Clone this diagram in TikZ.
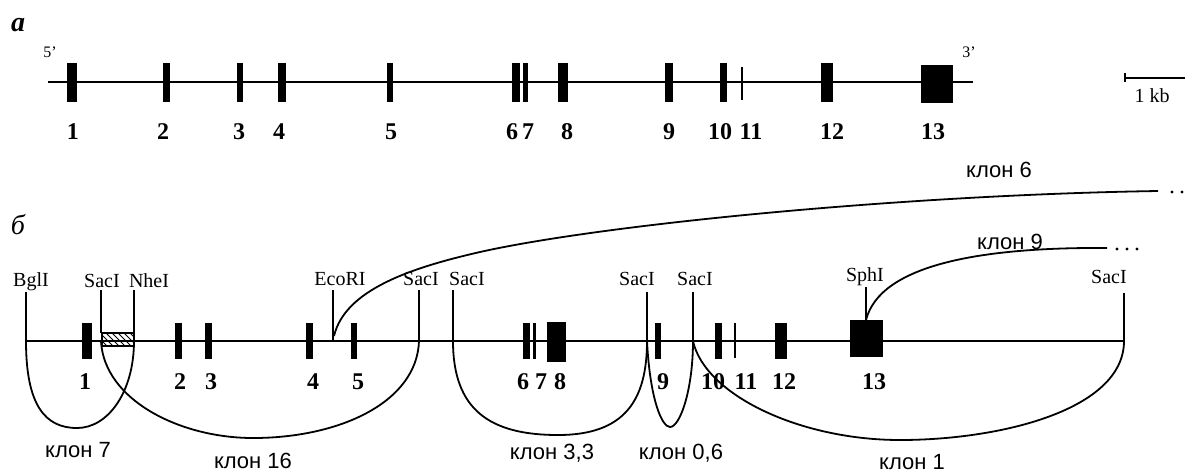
\documentclass[tikz,border=0pt]{standalone}
\usepackage{fontspec}
\setmainfont{Liberation Serif}
\setsansfont{Liberation Sans}
\usetikzlibrary{patterns}
\begin{document}
\begin{tikzpicture}[x=0.5pt,y=-0.5pt,
  mainline/.style={line width=1.2pt},
  siteline/.style={line width=0.9pt},
  clonearc/.style={line width=0.9pt},
  num/.style={font=\fontsize{12}{12}\selectfont\bfseries, inner sep=0pt},
  enz/.style={font=\fontsize{10}{10}\selectfont, inner sep=0pt},
  clonelbl/.style={font=\sffamily\fontsize{11}{12}\selectfont, inner sep=0pt},
  panellbl/.style={font=\fontsize{14}{14}\selectfont\itshape, inner sep=0pt},
  prime/.style={font=\fontsize{8}{8}\selectfont, inner sep=0pt},
  dotnode/.style={circle, fill=black, inner sep=0pt, minimum size=1.6pt}
]
\useasboundingbox (0,0) rectangle (1185,473);

% ---------------- panel a ----------------
\node[panellbl, font=\fontsize{14}{14}\selectfont\bfseries\itshape] (pa) at (18,25) {а};
\node[prime] (p5) at (50,52) {5'};
\node[prime] (p3) at (969,52) {3'};
\coordinate (aL) at (48,82);
\coordinate (aR) at (973,82);
\draw[mainline] (aL) -- (aR);
\foreach \l/\r in {67/77,163/170,237/243,278/286,387/393,512/520,523/528,558/568,665/673,720/727,821/833}
  \fill (\l,63) rectangle (\r,102);
\draw[line width=0.6pt] (742,67) -- (742,100);
\fill (921,65) rectangle (953,103);
\foreach \n/\x in {1/73,2/163,3/239,4/279,5/391,6/512,7/528,8/567,9/669,10/720,11/751,12/832,13/933}
  \node[num] (na\n) at (\x,132) {\n};

% scale bar
\coordinate (sbL) at (1125,78);
\coordinate (sbR) at (1185,78);
\draw[line width=0.8pt] (sbL) -- (sbR);
\draw[line width=0.8pt] (1125,73) -- (1125,82);
\node[font=\fontsize{10}{10}\selectfont, inner sep=0pt] (kb) at (1152,96) {1 kb};

% ---------------- panel b ----------------
\node[panellbl] (pb) at (18,225) {б};
\coordinate (bL) at (25,341);
\coordinate (bR) at (1125,341);
\draw[mainline] (bL) -- (bR);
\foreach \l/\r in {82/92,175/182,205/212,306/313,351/357,523/530,533/536,655/661,715/722,775/787}
  \fill (\l,323) rectangle (\r,359);
\fill (547,322) rectangle (566,362);
\draw[line width=0.6pt] (735,323) -- (735,358);
\fill (850,320) rectangle (883,357);
\draw[line width=0.8pt, pattern=north west lines] (102,333) rectangle (134,346);
\foreach \n/\x in {1/85,2/180,3/211,4/313,5/358,6/523,7/541,8/560,9/663,10/713,11/746,12/784,13/874}
  \node[num] (nb\n) at (\x,382) {\n};

% restriction sites
\node[enz] (bgl) at (31,282) {BglI};
\node[enz] (sac1) at (102,281) {SacI};
\node[enz] (nhe) at (149,281) {NheI};
\node[enz] (eco) at (340,279) {EcoRI};
\node[enz] (sac2) at (421,279) {SacI};
\node[enz] (sac3) at (467,279) {SacI};
\node[enz] (sac4) at (637,279) {SacI};
\node[enz] (sac5) at (695,279) {SacI};
\node[enz] (sph) at (865,277) {SphI};
\node[enz] (sac6) at (1109,277) {SacI};

\coordinate (bglT) at (26,292);   \coordinate (bglB) at (26,341);
\coordinate (sac1T) at (101,290); \coordinate (sac1B) at (101,341);
\coordinate (nheT) at (134,290);  \coordinate (nheB) at (134,341);
\coordinate (ecoT) at (333,290);  \coordinate (ecoB) at (333,341);
\coordinate (sac2T) at (419,290); \coordinate (sac2B) at (419,341);
\coordinate (sac3T) at (453,290); \coordinate (sac3B) at (453,341);
\coordinate (sac4T) at (647,292); \coordinate (sac4B) at (647,341);
\coordinate (sac5T) at (693,292); \coordinate (sac5B) at (693,341);
\coordinate (sphT) at (866,287);  \coordinate (sphB) at (866,320);
\coordinate (sac6T) at (1124,293);\coordinate (sac6B) at (1124,341);

\foreach \s in {bgl,nhe,eco,sac2,sac3,sac4,sac5,sph,sac6}
  \draw[siteline] (\s T) -- (\s B);
\draw[siteline] (sac1T) -- (101,333);
\draw[siteline] (nheT) -- (134,333);

% clone arcs
\draw[clonearc] (bglB) .. controls (26,405) and (45,428) .. (77,428)
                       .. controls (108,428) and (134,392) .. (nheB);
\draw[clonearc] (sac1B) .. controls (104,400) and (180,438) .. (253,438)
                        .. controls (340,438) and (417,402) .. (sac2B);
\draw[clonearc] (sac3B) .. controls (453,410) and (490,435) .. (558,435)
                        .. controls (625,435) and (647,400) .. (sac4B);
\draw[clonearc] (sac4B) .. controls (650,400) and (662,427) .. (670,427)
                        .. controls (680,427) and (693,390) .. (sac5B);
\draw[clonearc] (sac5B) .. controls (705,395) and (800,440) .. (900,440)
                        .. controls (1000,440) and (1124,410) .. (sac6B);
\coordinate (c6end) at (1158,191);
\draw[clonearc] (334,336) .. controls (345,290) and (410,268) .. (480,252)
                        .. controls (600,225) and (900,195) .. (c6end);
\coordinate (c9end) at (1107,248);
\draw[clonearc] (sphB) .. controls (880,265) and (980,247) .. (c9end);

\node[dotnode] (d61) at (1172,192) {};
\node[dotnode] (d62) at (1182,192) {};
\node[dotnode] (d91) at (1117,249) {};
\node[dotnode] (d92) at (1127,249) {};
\node[dotnode] (d93) at (1137,249) {};

\node[clonelbl] (k7) at (78,450) {клон 7};
\node[clonelbl] (k16) at (253,461) {клон 16};
\node[clonelbl] (k33) at (552,453) {клон 3,3};
\node[clonelbl] (k06) at (681,453) {клон 0,6};
\node[clonelbl] (k1) at (912,462) {клон 1};
\node[clonelbl] (k6) at (999,170) {клон 6};
\node[clonelbl] (k9) at (1010,242) {клон 9};
\end{tikzpicture}
\end{document}
